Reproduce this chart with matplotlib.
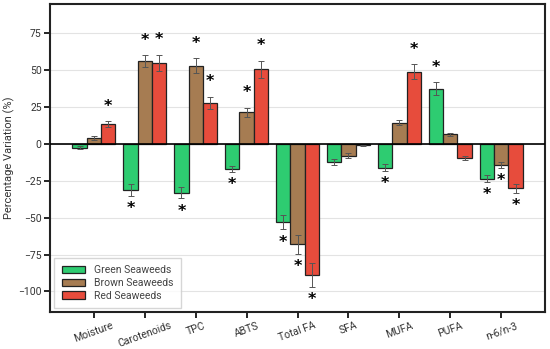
import matplotlib.pyplot as plt
import numpy as np

plt.rcParams['font.family'] = ['Roboto', 'DejaVu Sans']

categories = ['Moisture', 'Carotenoids', 'TPC', 'ABTS', 'Total FA', 'SFA', 'MUFA', 'PUFA', 'n-6/n-3']

green = [-2.5, -31, -33, -17, -53, -12, -16, 37.5, -23.5]
green_err = [1, 4, 4, 2, 5, 2, 2.5, 4.5, 2.5]
green_sig = [False, True, True, True, True, False, True, True, True]

brown = [4, 56, 53, 21.5, -68, -8, 14.5, 6.5, -14.5]
brown_err = [1.5, 4, 5, 3, 6.5, 1.5, 2, 1, 2]
brown_sig = [False, True, True, True, True, False, False, False, True]

red = [13.5, 55, 28, 50.5, -89, -1, 49, -9.5, -30]
red_err = [2, 5.5, 4, 6, 8, 0.5, 5, 1.5, 3]
red_sig = [True, True, True, True, True, False, True, False, True]

series = [
    ('Green Seaweeds', green, green_err, green_sig, '#2ecc71'),
    ('Brown Seaweeds', brown, brown_err, brown_sig, '#a67c52'),
    ('Red Seaweeds', red, red_err, red_sig, '#e74c3c'),
]

fig = plt.figure(figsize=(5.5, 3.49), dpi=100)
ax = fig.add_axes([0.091, 0.106, 0.9, 0.883])

x = np.arange(len(categories))
width = 0.28

for i, (name, vals, errs, sig, color) in enumerate(series):
    pos = x + (i - 1) * width
    ax.bar(pos, vals, width, color=color, edgecolor='#222222', linewidth=0.9,
           label=name, zorder=3)
    ax.errorbar(pos, vals, yerr=errs, fmt='none', ecolor='#555555',
                elinewidth=0.7, capsize=2.5, capthick=0.7, zorder=4)
    # significance stars
    for p, v, e, s in zip(pos, vals, errs, sig):
        if not s:
            continue
        if v >= 0:
            ax.text(p, v + e + 5, '*', ha='center', va='bottom',
                    fontsize=11.5, fontweight='bold', family='DejaVu Sans', zorder=5)
        else:
            ax.text(p, v - e - 3.5, '*', ha='center', va='top',
                    fontsize=11.5, fontweight='bold', family='DejaVu Sans', zorder=5)

ax.axhline(0, color='black', linewidth=1.2, zorder=4)
ax.set_xlim(-0.86, 8.86)
ax.set_ylim(-114, 95)
ax.set_yticks([-100, -75, -50, -25, 0, 25, 50, 75])
ax.yaxis.grid(True, color='#e3e3e3', linewidth=0.8, zorder=0)
ax.set_axisbelow(True)

ax.set_xticks(x)
ax.set_xticklabels(categories, rotation=20, ha='center', fontsize=7.5, color='#333333')
ax.tick_params(axis='y', labelsize=7.5, colors='#333333', pad=2)
ax.tick_params(axis='x', pad=2)
ax.tick_params(axis='both', color='black', width=1.2, length=4)
ax.set_ylabel('Percentage Variation (%)', fontsize=8, color='#333333', labelpad=2)

for sp in ax.spines.values():
    sp.set_linewidth(1.5)
    sp.set_color('#222222')

leg = ax.legend(loc='lower left', fontsize=7.5, frameon=True, fancybox=False,
                edgecolor='#cccccc', borderpad=0.7, handlelength=2.3, labelspacing=0.25,
                borderaxespad=0.4)
for t in leg.get_texts():
    t.set_color('#444444')

fig.savefig('out.png', dpi=100)
